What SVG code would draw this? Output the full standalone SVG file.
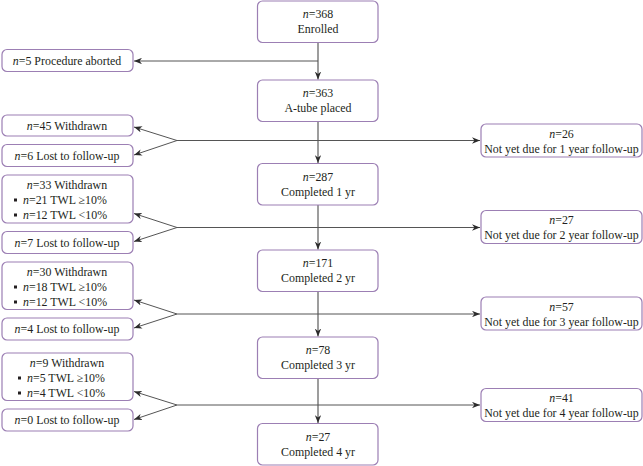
<svg xmlns="http://www.w3.org/2000/svg" width="643" height="466" viewBox="0 0 643 466">
<defs>
<marker id="ah" viewBox="0 0 10 8" refX="10" refY="4" markerWidth="8" markerHeight="6.4" orient="auto" markerUnits="userSpaceOnUse">
<path d="M0,0 L10,4 L0,8 L3,4 z" fill="#2b2b2b"/>
</marker>
<style>
.box{fill:#ffffff;stroke:#9c7fb4;stroke-width:1.2}
.t{font-family:"Liberation Serif","Times New Roman",serif;font-size:11.9px;fill:#231f20}
.c{text-anchor:middle}
.v{fill:none;stroke:#7d7d7d;stroke-width:1.5;marker-end:url(#ah)}
.h{fill:none;stroke:#555555;stroke-width:1;marker-end:url(#ah)}
.b{fill:#231f20}
</style>
</defs>
<rect width="643" height="466" fill="#ffffff"/>

<g id="connectors">
<path class="v" d="M318,42.5 V79.5"/>
<path class="h" d="M318,61 H134"/>
<path class="v" d="M318,121.5 V163"/>
<path class="h" d="M177,140.5 H480"/>
<path class="h" d="M177,140.5 L134,127"/>
<path class="h" d="M177,140.5 L134,155"/>
<path class="v" d="M318,205 V249.5"/>
<path class="h" d="M177,227.5 H480"/>
<path class="h" d="M177,227.5 L134,213.5"/>
<path class="h" d="M177,227.5 L134,241.5"/>
<path class="v" d="M318,291.5 V336.5"/>
<path class="h" d="M177,314 H480"/>
<path class="h" d="M177,314 L134,300"/>
<path class="h" d="M177,314 L134,328"/>
<path class="v" d="M318,378.5 V423"/>
<path class="h" d="M177,405 H480"/>
<path class="h" d="M177,405 L134,391.5"/>
<path class="h" d="M177,405 L134,419.5"/>
</g>

<g id="enrolled">
<rect class="box" x="257.5" y="1" width="120.5" height="41.5" rx="5"/>
<text class="t c" x="318" y="18"><tspan font-style="italic">n</tspan>=368</text>
<text class="t c" x="318" y="33">Enrolled</text>
</g>
<g id="aborted">
<rect class="box" x="2" y="49.5" width="131" height="22" rx="5"/>
<text class="t c" x="67" y="64.5"><tspan font-style="italic">n</tspan>=5 Procedure aborted</text>
</g>
<g id="atube">
<rect class="box" x="257.5" y="80" width="120.5" height="41.5" rx="5"/>
<text class="t c" x="318" y="97"><tspan font-style="italic">n</tspan>=363</text>
<text class="t c" x="318" y="112">A-tube placed</text>
</g>

<g id="withdrawn1">
<rect class="box" x="2" y="115" width="131" height="21" rx="5"/>
<text class="t c" x="67" y="129.5"><tspan font-style="italic">n</tspan>=45 Withdrawn</text>
</g>
<g id="lost1">
<rect class="box" x="2" y="144.5" width="131" height="22" rx="5"/>
<text class="t c" x="67" y="159.5"><tspan font-style="italic">n</tspan>=6 Lost to follow-up</text>
</g>
<g id="notdue1">
<rect class="box" x="481" y="124" width="161" height="33" rx="5"/>
<text class="t c" x="561.5" y="137.5"><tspan font-style="italic">n</tspan>=26</text>
<text class="t c" x="561.5" y="152.5">Not yet due for 1 year follow-up</text>
</g>
<g id="year1">
<rect class="box" x="257.5" y="163.5" width="120.5" height="41.5" rx="5"/>
<text class="t c" x="318" y="180.5"><tspan font-style="italic">n</tspan>=287</text>
<text class="t c" x="318" y="195.5">Completed 1 yr</text>
</g>

<g id="withdrawn2">
<rect class="box" x="2" y="175" width="131" height="48" rx="5"/>
<text class="t c" x="67" y="188.5"><tspan font-style="italic">n</tspan>=33 Withdrawn</text>
<rect class="b" x="14" y="198.5" width="3" height="3"/>
<text class="t" x="23" y="203.5"><tspan font-style="italic">n</tspan>=21 TWL ≥10%</text>
<rect class="b" x="14" y="213.5" width="3" height="3"/>
<text class="t" x="23" y="218.5"><tspan font-style="italic">n</tspan>=12 TWL &lt;10%</text>
</g>
<g id="lost2">
<rect class="box" x="2" y="231.5" width="131" height="22" rx="5"/>
<text class="t c" x="67" y="246.5"><tspan font-style="italic">n</tspan>=7 Lost to follow-up</text>
</g>
<g id="notdue2">
<rect class="box" x="481" y="210.5" width="161" height="33" rx="5"/>
<text class="t c" x="561.5" y="224"><tspan font-style="italic">n</tspan>=27</text>
<text class="t c" x="561.5" y="239">Not yet due for 2 year follow-up</text>
</g>
<g id="year2">
<rect class="box" x="257.5" y="250" width="120.5" height="41.5" rx="5"/>
<text class="t c" x="318" y="267"><tspan font-style="italic">n</tspan>=171</text>
<text class="t c" x="318" y="282">Completed 2 yr</text>
</g>

<g id="withdrawn3">
<rect class="box" x="2" y="262" width="131" height="47.5" rx="5"/>
<text class="t c" x="67" y="275.5"><tspan font-style="italic">n</tspan>=30 Withdrawn</text>
<rect class="b" x="14" y="285.5" width="3" height="3"/>
<text class="t" x="23" y="290.5"><tspan font-style="italic">n</tspan>=18 TWL ≥10%</text>
<rect class="b" x="14" y="300.5" width="3" height="3"/>
<text class="t" x="23" y="305.5"><tspan font-style="italic">n</tspan>=12 TWL &lt;10%</text>
</g>
<g id="lost3">
<rect class="box" x="2" y="318" width="131" height="22" rx="5"/>
<text class="t c" x="67" y="333"><tspan font-style="italic">n</tspan>=4 Lost to follow-up</text>
</g>
<g id="notdue3">
<rect class="box" x="481" y="297" width="161" height="33" rx="5"/>
<text class="t c" x="561.5" y="310.5"><tspan font-style="italic">n</tspan>=57</text>
<text class="t c" x="561.5" y="325.5">Not yet due for 3 year follow-up</text>
</g>
<g id="year3">
<rect class="box" x="257.5" y="337" width="120.5" height="41.5" rx="5"/>
<text class="t c" x="318" y="354"><tspan font-style="italic">n</tspan>=78</text>
<text class="t c" x="318" y="369">Completed 3 yr</text>
</g>

<g id="withdrawn4">
<rect class="box" x="2" y="353" width="131" height="47.5" rx="5"/>
<text class="t c" x="67" y="366.5"><tspan font-style="italic">n</tspan>=9 Withdrawn</text>
<rect class="b" x="18" y="376.5" width="3" height="3"/>
<text class="t" x="27" y="381.5"><tspan font-style="italic">n</tspan>=5 TWL ≥10%</text>
<rect class="b" x="18" y="391.5" width="3" height="3"/>
<text class="t" x="27" y="396.5"><tspan font-style="italic">n</tspan>=4 TWL &lt;10%</text>
</g>
<g id="lost4">
<rect class="box" x="2" y="409" width="131" height="22" rx="5"/>
<text class="t c" x="67" y="424"><tspan font-style="italic">n</tspan>=0 Lost to follow-up</text>
</g>
<g id="notdue4">
<rect class="box" x="481" y="388.5" width="161" height="33" rx="5"/>
<text class="t c" x="561.5" y="402"><tspan font-style="italic">n</tspan>=41</text>
<text class="t c" x="561.5" y="417">Not yet due for 4 year follow-up</text>
</g>
<g id="year4">
<rect class="box" x="257.5" y="423.5" width="120.5" height="41.5" rx="5"/>
<text class="t c" x="318" y="440.5"><tspan font-style="italic">n</tspan>=27</text>
<text class="t c" x="318" y="455.5">Completed 4 yr</text>
</g>
</svg>
